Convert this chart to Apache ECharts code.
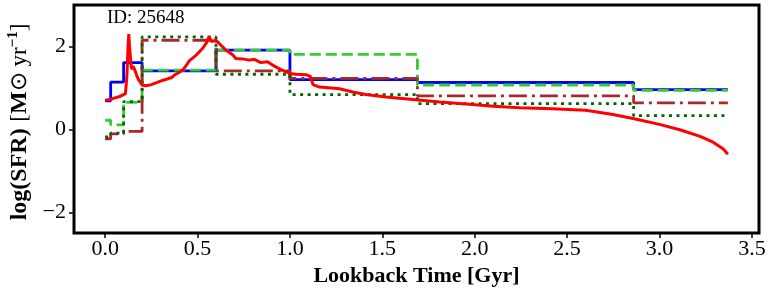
<!DOCTYPE html>
<html>
<head>
<meta charset="utf-8">
<script src="https://cdn.jsdelivr.net/npm/echarts@6/dist/echarts.min.js"></script>
<style>
html,body{margin:0;padding:0;background:#fff;}
#c{width:773px;height:294px;}
</style>
</head>
<body>
<div id="c"></div>
<script>
// bin edges (Gyr) for the step SFHs
var binEdges = [0, 0.03, 0.1, 0.2, 0.6, 1.0, 1.69, 2.86, 3.37];
// log SFR per bin
var blueSFH    = [0.69, 1.14, 1.61, 1.41, 1.91, 1.20, 1.13, 0.96];
var limeSFH    = [0.22, 0.11, 0.65, 1.43, 1.91, 1.81, 1.07, 0.94];
var brownSFH   = [-0.23, -0.11, -0.05, 2.15, 1.41, 1.23, 0.81, 0.64];
var dkgreenSFH = [-0.18, -0.09, 0.67, 2.23, 1.33, 0.84, 0.62, 0.33];
// true SFH (red)
var trueTime = [0, 0.04, 0.083, 0.11, 0.118, 0.124, 0.128, 0.132, 0.137, 0.142, 0.146, 0.152, 0.159, 0.165, 0.17, 0.182, 0.2, 0.22, 0.25, 0.275, 0.31, 0.34, 0.36, 0.375, 0.395, 0.42, 0.44, 0.455, 0.49, 0.527, 0.55, 0.563, 0.575, 0.585, 0.6, 0.627, 0.654, 0.69, 0.707, 0.744, 0.78, 0.807, 0.843, 0.879, 0.906, 0.951, 1.0, 1.033, 1.087, 1.11, 1.125, 1.16, 1.268, 1.34, 1.41, 1.52, 1.665, 1.81, 1.954, 2.10, 2.243, 2.42, 2.60, 2.748, 2.857, 3.0, 3.11, 3.22, 3.29, 3.344, 3.37];
var trueSFR  = [0.70, 0.74, 0.80, 0.86, 1.30, 2.00, 2.30, 2.00, 1.72, 1.50, 1.45, 1.52, 1.50, 1.38, 1.31, 1.19, 1.07, 1.05, 1.08, 1.12, 1.18, 1.22, 1.25, 1.31, 1.36, 1.43, 1.55, 1.65, 1.78, 1.95, 2.10, 2.24, 2.12, 2.11, 2.15, 2.03, 1.91, 1.80, 1.71, 1.70, 1.67, 1.69, 1.61, 1.63, 1.55, 1.44, 1.35, 1.33, 1.32, 1.28, 1.08, 1.02, 0.98, 0.90, 0.84, 0.78, 0.72, 0.66, 0.61, 0.56, 0.52, 0.50, 0.46, 0.36, 0.26, 0.12, -0.01, -0.17, -0.31, -0.47, -0.60];
var xTicks = [0, 0.5, 1.0, 1.5, 2.0, 2.5, 3.0, 3.5];
var yTicks = [-2, 0, 2];
var galaxyId = 'ID: 25648';

function stepData(vals) {
  var d = [];
  for (var i = 0; i < vals.length; i++) d.push([binEdges[i], vals[i]]);
  d.push([binEdges[binEdges.length - 1], vals[vals.length - 1]]);
  return d;
}
var trueData = trueTime.map(function (t, i) { return [t, trueSFR[i]]; });

var FONT = 'Liberation Serif';
var LW = 2.8;
function stepSeries(vals, color, type, z) {
  return {
    type: 'line', step: 'end', data: stepData(vals), symbol: 'none', z: z,
    lineStyle: { color: color, width: LW, type: type, cap: 'butt' }, animation: false
  };
}

var chart = echarts.init(document.getElementById('c'), null, { renderer: 'canvas' });
chart.setOption({
  animation: false,
  grid: { left: 74, right: 14, top: 5, bottom: 61, show: true, borderColor: '#000', borderWidth: 3, backgroundColor: 'transparent' },
  xAxis: {
    type: 'value', min: -0.1685, max: 3.5385,
    axisLine: { show: false, onZero: false }, splitLine: { show: false },
    axisTick: { show: true, inside: false, length: 5, lineStyle: { color: '#000', width: 1.5 }, customValues: xTicks },
    axisLabel: { color: '#000', fontFamily: FONT, fontSize: 22, margin: 5, customValues: xTicks,
      formatter: function (v) { return v.toFixed(1); } },
    name: 'Lookback Time [Gyr]', nameLocation: 'middle', nameGap: 28,
    nameTextStyle: { color: '#000', fontFamily: FONT, fontSize: 22, fontWeight: 'bold' }
  },
  yAxis: {
    type: 'value', min: -2.5, max: 3,
    axisLine: { show: false, onZero: false }, splitLine: { show: false },
    axisTick: { show: true, inside: false, length: 5, lineStyle: { color: '#000', width: 1.5 }, customValues: yTicks },
    axisLabel: { color: '#000', fontFamily: FONT, fontSize: 22, margin: 8, customValues: yTicks,
      formatter: function (v) { return String(v).replace('-', '\u2212'); } }
  },
  graphic: [
    { type: 'text', left: 107, top: 9, z: 100,
      style: { text: galaxyId, fill: '#000', font: '19px "Liberation Serif"' } },
    { type: 'text', x: 20, y: 122, rotation: Math.PI / 2, z: 100,
      style: {
        text: '{a|log(SFR)}  {b|[}{a|M}{b|\u2299 yr}{s|\u22121}{b|]}',
        align: 'center', verticalAlign: 'middle', fill: '#000',
        rich: {
          a: { fontFamily: FONT, fontSize: 24, fontWeight: 'bold', fill: '#000', lineHeight: 28 },
          b: { fontFamily: FONT, fontSize: 23, fill: '#000', lineHeight: 28 },
          s: { fontFamily: FONT, fontSize: 15, fontWeight: 'bold', fill: '#000', verticalAlign: 'top', lineHeight: 28 }
        }
      }
    }
  ],
  series: [
    stepSeries(blueSFH, '#0000ff', 'solid', 2),
    stepSeries(limeSFH, '#32cd32', [11, 5], 3),
    stepSeries(brownSFH, '#a52a2a', [18, 5, 3, 5], 4),
    stepSeries(dkgreenSFH, '#006400', [3, 4.5], 5),
    { type: 'line', data: trueData, symbol: 'none', z: 6, animation: false,
      lineStyle: { color: '#ff0000', width: 3 } }
  ]
});
</script>
</body>
</html>
